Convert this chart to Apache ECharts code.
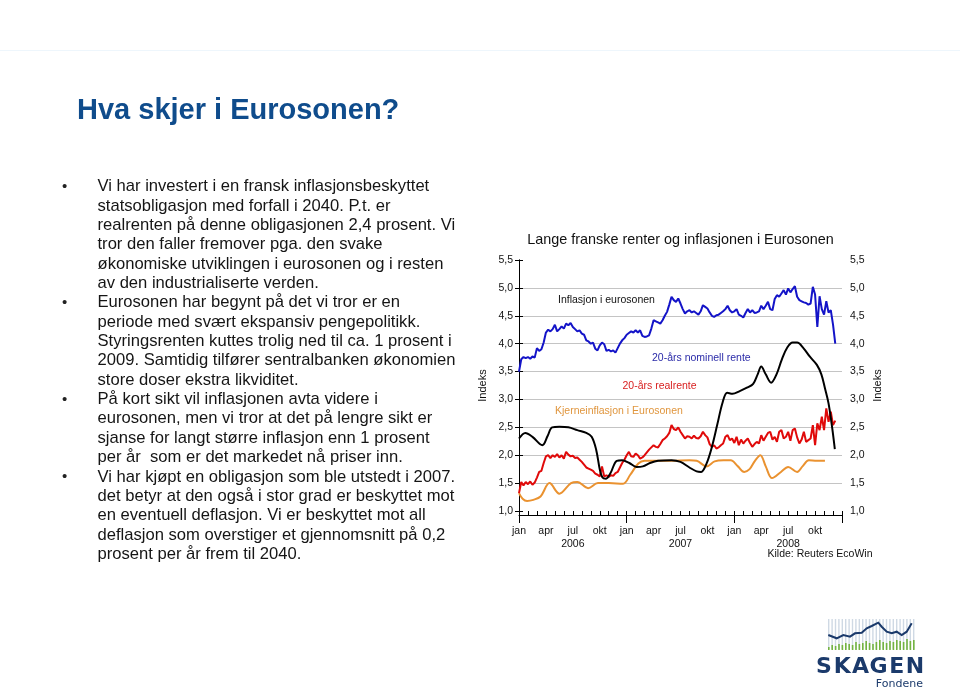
<!DOCTYPE html>
<html><head><meta charset="utf-8">
<script src="https://cdn.jsdelivr.net/npm/echarts@6/dist/echarts.min.js"></script>
<style>html,body{margin:0;padding:0;background:#fff}#c{width:960px;height:690px}</style>
</head><body><div id="c"></div>
<script>
// ---- Data ----
const monthLabels = ['jan', 'apr', 'jul', 'okt'];
const yearLabels = ['2006', '2007', '2008'];

// 20-års nominell rente, weekly readings starting jan 2006 (4 per month)
const nominalWeekly = [
  3.50, 3.72, 3.76, 3.74,  3.76, 3.73, 3.77, 3.75,  3.92, 3.87, 3.90, 4.02,
  4.20, 4.25, 4.22, 4.26,  4.34, 4.22, 4.26, 4.31,  4.27, 4.36, 4.33, 4.37,
  4.30, 4.26, 4.22, 4.24,  4.18, 4.16, 4.06, 4.04,  4.00, 4.02, 3.91, 3.88,
  3.97, 4.02, 3.99, 3.87,  3.89, 3.86, 3.88, 3.84,  3.92, 4.00, 4.06, 4.10,
  4.16, 4.19, 4.22, 4.20,  4.24, 4.20, 4.24, 4.14,  4.12, 4.13, 4.15, 4.27,
  4.42, 4.40, 4.38, 4.36,  4.42, 4.50, 4.57, 4.70,  4.84, 4.78, 4.75, 4.81,
  4.72, 4.62, 4.54, 4.58,  4.60, 4.56, 4.58, 4.55,  4.52, 4.58, 4.69, 4.66,
  4.63, 4.56, 4.50, 4.48,  4.51, 4.52, 4.55, 4.58,  4.62, 4.68, 4.60, 4.56,
  4.58, 4.62, 4.52, 4.50,  4.47, 4.55, 4.62, 4.56,  4.60, 4.55, 4.56, 4.58,
  4.68, 4.62, 4.68, 4.75,  4.62, 4.60, 4.80, 4.87,  4.84, 4.90, 4.96, 4.88,
  4.99, 4.92, 4.98, 5.03,  4.84, 4.78, 4.76, 4.74,  4.73, 4.70, 4.72, 5.02,
  4.88, 4.30, 4.85, 4.62,  4.52, 4.76, 4.56, 4.60,  4.34, 4.00
];

// 20-års realrente, weekly readings starting jan 2006 (4 per month)
const realWeekly = [
  1.32, 1.52, 1.46, 1.52,  1.48, 1.53, 1.47, 1.51,  1.60, 1.70, 1.72, 1.86,
  1.98, 2.00, 1.95, 2.00,  1.97, 2.02, 1.96, 2.00,  1.94, 2.06, 2.01, 1.98,
  1.99, 1.95, 1.96, 1.92,  1.88, 1.83, 1.78, 1.76,  1.74, 1.72, 1.67, 1.65,
  1.62, 1.80, 1.62, 1.64,  1.61, 1.64, 1.63, 1.68,  1.70, 1.78, 1.86, 1.92,
  2.00, 2.06, 1.98, 1.97,  2.03, 2.00, 1.94, 1.96,  2.00, 2.05, 2.10, 2.14,
  2.18, 2.15, 2.14, 2.20,  2.27, 2.30, 2.34, 2.40,  2.54, 2.47, 2.45, 2.50,
  2.42, 2.36, 2.30, 2.34,  2.33, 2.30, 2.35, 2.31,  2.30, 2.34, 2.42, 2.36,
  2.32, 2.20, 2.15, 2.18,  2.12, 2.14, 2.18, 2.21,  2.33, 2.36, 2.27, 2.30,
  2.22, 2.33, 2.18, 2.28,  2.21, 2.26, 2.30, 2.22,  2.15, 2.20, 2.24, 2.21,
  2.36, 2.26, 2.33, 2.40,  2.42, 2.28, 2.33, 2.24,  2.42, 2.45, 2.30, 2.33,
  2.42, 2.26, 2.45, 2.48,  2.32, 2.21, 2.28, 2.42,  2.24, 2.27, 2.30, 2.54,
  2.18, 2.57, 2.45, 2.69,  2.45, 2.84, 2.60, 2.78,  2.54, 2.62
];

// Inflasjon i eurosonen: [month since jan 2006, value]
const cpiPoints = [
  [0, 2.30], [0.7, 2.40], [1.5, 2.33], [2.6, 2.18], [3.2, 2.35], [3.7, 2.50],
  [4.5, 2.51], [5.5, 2.50], [6.5, 2.45], [7.5, 2.40], [8.1, 2.33], [8.6, 2.10],
  [9.0, 1.75], [9.3, 1.60], [9.7, 1.58], [10.2, 1.68], [10.9, 1.90], [11.5, 1.91],
  [12.3, 1.86], [13.1, 1.79], [13.8, 1.80], [14.6, 1.86], [15.5, 1.90], [17.0, 1.91],
  [18.0, 1.88], [19.0, 1.78], [19.8, 1.71], [20.3, 1.70], [20.9, 1.85], [21.5, 2.15],
  [22.1, 2.55], [22.7, 2.95], [23.2, 3.12], [23.8, 3.10], [24.6, 3.15], [25.4, 3.21],
  [26.1, 3.28], [26.6, 3.45], [27.0, 3.59], [27.5, 3.45], [28.1, 3.30], [28.7, 3.45],
  [29.3, 3.72], [29.9, 3.93], [30.5, 4.02], [31.0, 4.02], [31.7, 3.92], [32.4, 3.77],
  [33.2, 3.62], [33.7, 3.45], [34.1, 3.20], [34.5, 2.93], [34.9, 2.50], [35.2, 2.11]
];

// Kjerneinflasjon i Eurosonen: [month since jan 2006, value]
const corePoints = [
  [0, 1.32], [0.4, 1.22], [0.9, 1.18], [1.6, 1.20], [2.4, 1.26], [3.4, 1.50],
  [4.5, 1.31], [5.8, 1.50], [6.5, 1.52], [7.7, 1.41], [8.8, 1.50], [10.0, 1.50],
  [11.6, 1.49], [12.4, 1.65], [13.3, 1.85], [14.0, 1.90], [15.0, 1.90], [17.0, 1.90],
  [19.0, 1.91], [19.8, 1.90], [20.9, 1.80], [21.8, 1.89], [22.8, 1.91], [23.6, 1.91],
  [24.4, 1.80], [25.1, 1.70], [25.7, 1.75], [26.3, 1.90], [26.9, 2.00], [27.5, 1.80],
  [28.2, 1.59], [29.2, 1.70], [30.0, 1.79], [31.0, 1.70], [31.6, 1.80], [32.3, 1.91],
  [33.2, 1.90], [34.1, 1.90]
];

const bullets = [
  ['Vi har investert i en fransk inflasjonsbeskyttet',
   'statsobligasjon med forfall i 2040. P.t. er',
   'realrenten på denne obligasjonen 2,4 prosent. Vi',
   'tror den faller fremover pga. den svake',
   'økonomiske utviklingen i eurosonen og i resten',
   'av den industrialiserte verden.'],
  ['Eurosonen har begynt på det vi tror er en',
   'periode med svært ekspansiv pengepolitikk.',
   'Styringsrenten kuttes trolig ned til ca. 1 prosent i',
   '2009. Samtidig tilfører sentralbanken økonomien',
   'store doser ekstra likviditet.'],
  ['På kort sikt vil inflasjonen avta videre i',
   'eurosonen, men vi tror at det på lengre sikt er',
   'sjanse for langt større inflasjon enn 1 prosent',
   'per år  som er det markedet nå priser inn.'],
  ['Vi har kjøpt en obligasjon som ble utstedt i 2007.',
   'det betyr at den også i stor grad er beskyttet mot',
   'en eventuell deflasjon. Vi er beskyttet mot all',
   'deflasjon som overstiger et gjennomsnitt på 0,2',
   'prosent per år frem til 2040.']
];

// ---- Build ----
const FONT = '"Liberation Sans", Arial, sans-serif';
const weekly = arr => arr.map((v, i) => [i / 4, v]);

const graphics = [];
// very faint header line
graphics.push({type: 'rect', shape: {x: 0, y: 50, width: 960, height: 1}, style: {fill: '#eef6fc'}});
// slide title
graphics.push({type: 'text', x: 77, y: 96, style: {text: 'Hva skjer i Eurosonen?', fontFamily: FONT, fontWeight: 'bold', fontSize: 29, fill: '#0f4c8c', verticalAlign: 'alphabetic'}});
// bullet text
let line = 0;
bullets.forEach(par => {
  par.forEach((t, k) => {
    const y = 186.7 + line * 19.35;
    if (k === 0) graphics.push({type: 'text', x: 62, y: y, style: {text: '•', fontFamily: FONT, fontSize: 15, fill: '#222', verticalAlign: 'middle'}});
    graphics.push({type: 'text', x: 97.5, y: y, style: {text: t, fontFamily: FONT, fontSize: 16.6, fill: '#151515', verticalAlign: 'middle'}});
    line++;
  });
});
// chart title & annotations
graphics.push({type: 'text', x: 680.5, y: 240, style: {text: 'Lange franske renter og inflasjonen i Eurosonen', fontFamily: FONT, fontSize: 14.4, fill: '#111', align: 'center', verticalAlign: 'middle'}});
const ann = (t, x, y, c) => graphics.push({type: 'text', x: x, y: y, z: 10, style: {text: t, fontFamily: FONT, fontSize: 10.5, fill: c, verticalAlign: 'middle'}});
ann('Inflasjon i eurosonen', 558, 300, '#111');
ann('20-års nominell rente', 652, 358, '#2a2aa8');
ann('20-års realrente', 622.5, 386, '#d81e1e');
ann('Kjerneinflasjon i Eurosonen', 555, 411.5, '#e0963e');
graphics.push({type: 'text', x: 872.5, y: 554, style: {text: 'Kilde: Reuters EcoWin', fontFamily: FONT, fontSize: 10.5, fill: '#111', align: 'right', verticalAlign: 'middle'}});

// logo (decorative)
for (let x = 828; x <= 913; x += 3.4) {
  graphics.push({type: 'rect', shape: {x: x, y: 619, width: 1.4, height: 30}, style: {fill: '#cfd9e4'}});
}
const greenH = [3, 5, 4, 6, 5, 7, 6, 5, 8, 6, 7, 9, 7, 6, 8, 10, 8, 7, 9, 8, 10, 9, 8, 11, 9, 10];
greenH.forEach((h, i) => {
  graphics.push({type: 'rect', shape: {x: 828 + i * 3.4, y: 650 - h, width: 1.6, height: h}, style: {fill: '#74b441'}});
});
graphics.push({type: 'polyline', shape: {points: [[828.3,635],[836.7,638.3],[843.3,635],[850,636.7],[855,633.3],[861.7,632.7],[866.7,628.3],[871.7,626],[878.3,622.7],[881.7,626.7],[886.7,631.7],[891.7,633.3],[896.7,631.7],[901.7,635],[906.7,631.7],[911.7,623.3]]}, style: {stroke: '#1b3a6b', lineWidth: 2, fill: null}});
['S','K','A','G','E','N'].forEach((ch, i) => {
  graphics.push({type: 'text', x: 824 + i * 18.2, y: 667, style: {text: ch, fontFamily: '"DejaVu Sans", sans-serif', fontWeight: 'bold', fontSize: 22, fill: '#1b3a6b', align: 'center', verticalAlign: 'middle'}});
});
graphics.push({type: 'text', x: 923, y: 684, style: {text: 'Fondene', fontFamily: '"DejaVu Sans", sans-serif', fontSize: 11, fill: '#1b3a6b', align: 'right', verticalAlign: 'middle'}});

const yLabel = {fontFamily: FONT, fontSize: 10.5, color: '#111', formatter: v => v.toFixed(1).replace('.', ',')};
const yCommon = {
  type: 'value', min: 1, max: 5.5, interval: 0.5,
  axisLine: {show: true, lineStyle: {color: '#000', width: 1}},
  axisTick: {show: true, length: 4, lineStyle: {color: '#000'}},
  nameLocation: 'middle', name: 'Indeks', nameRotate: 90,
  nameTextStyle: {fontFamily: FONT, fontSize: 11, color: '#111'}
};

const option = {
  animation: false,
  backgroundColor: '#fff',
  grid: {left: 519, top: 260, width: 323, height: 251},
  xAxis: [
    {
      type: 'value', min: 0, max: 36, interval: 1, offset: 4,
      axisLine: {show: true, lineStyle: {color: '#000', width: 1}},
      axisTick: {show: true, inside: true, length: 4, lineStyle: {color: '#000'}},
      splitLine: {show: false},
      axisLabel: {
        margin: 10, fontFamily: FONT, fontSize: 10.5, color: '#111', lineHeight: 12.5, verticalAlign: 'top',
        formatter: v => {
          const i = Math.round(v);
          if (i % 3 !== 0 || i >= 36) return '';
          const m = monthLabels[(i / 3) % 4];
          return (i % 12 === 6) ? m + '\n' + yearLabels[Math.floor(i / 12)] : m;
        }
      }
    },
    {
      type: 'value', min: 0, max: 36, interval: 12, offset: 4, position: 'bottom',
      axisLine: {show: false},
      axisTick: {show: true, length: 8, lineStyle: {color: '#000'}},
      axisLabel: {show: false}, splitLine: {show: false}
    }
  ],
  yAxis: [
    Object.assign({}, yCommon, {
      position: 'left', nameGap: 31,
      axisLabel: Object.assign({margin: 6}, yLabel),
      splitLine: {show: true, showMaxLine: false, showMinLine: false, lineStyle: {color: '#c4c4c4', width: 1}}
    }),
    Object.assign({}, yCommon, {
      position: 'right', nameGap: 30,
      axisLabel: Object.assign({margin: 8}, yLabel),
      splitLine: {show: false}
    })
  ],
  series: [
    {name: 'Kjerneinflasjon i Eurosonen', type: 'line', data: corePoints, smooth: 0.35, showSymbol: false,
     lineStyle: {color: '#ea9230', width: 2}},
    {name: '20-års realrente', type: 'line', data: weekly(realWeekly), showSymbol: false,
     lineStyle: {color: '#e00a0a', width: 2}},
    {name: 'Inflasjon i eurosonen', type: 'line', data: cpiPoints, smooth: 0.35, showSymbol: false,
     lineStyle: {color: '#000', width: 2}},
    {name: '20-års nominell rente', type: 'line', data: weekly(nominalWeekly), showSymbol: false,
     lineStyle: {color: '#1414c8', width: 2}}
  ],
  graphic: graphics
};

const chart = echarts.init(document.getElementById('c'), null, {renderer: 'canvas'});
chart.setOption(option);
</script>
</body></html>
